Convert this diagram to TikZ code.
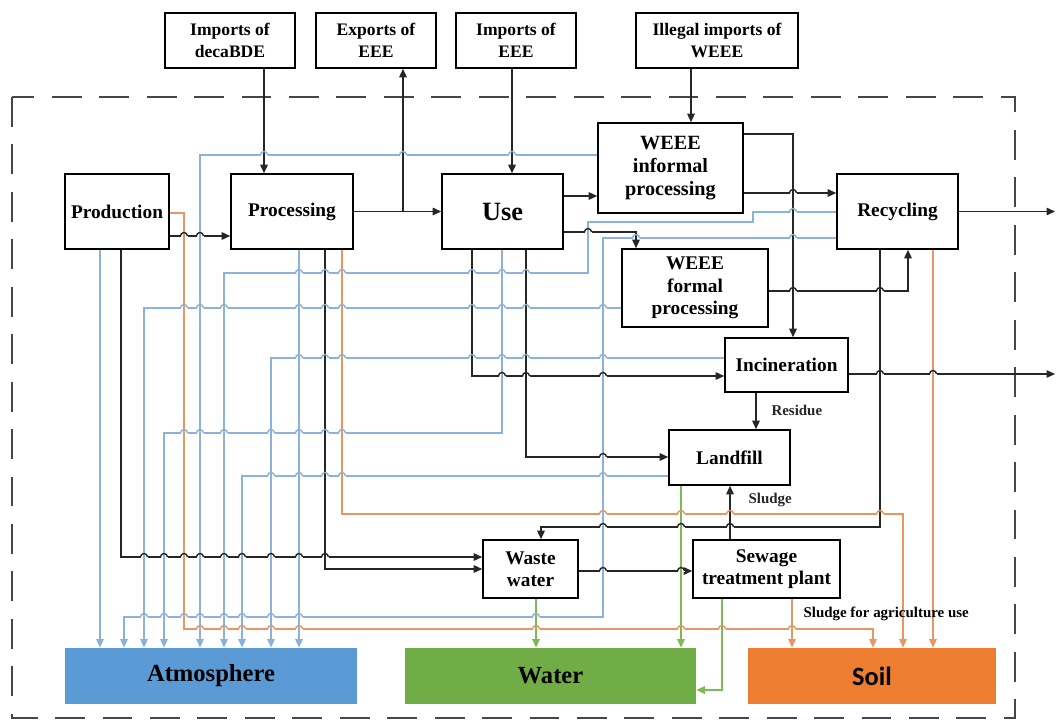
\documentclass[tikz,border=0pt]{standalone}
\usepackage{fontspec}
\setmainfont{Liberation Serif}
\newfontfamily\soilfont{Carlito}
\usetikzlibrary{arrows.meta,calc}

\definecolor{airblue}{RGB}{91,155,213}
\definecolor{airline}{RGB}{140,178,218}
\definecolor{watgreen}{RGB}{112,173,71}
\definecolor{watline}{RGB}{125,185,85}
\definecolor{soilorange}{RGB}{237,125,49}
\definecolor{soilline}{RGB}{232,150,100}
\definecolor{framegray}{RGB}{70,70,70}
\colorlet{flowblack}{black!85}

% line hop: x, y, colour of the crossing line, colour of the line below
\newcommand{\linehop}[4]{%
  \draw[white, line width=1.5pt] (#1-3.5,#2) -- (#1+3.5,#2);
  \draw[#4, line width=0.8pt] (#1,#2-3) -- (#1,#2+3);
  \draw[#3, line width=0.8pt] (#1-3.5,#2) arc[start angle=180, end angle=360, radius=3.5];
}

\begin{document}
\begin{tikzpicture}[
    x=0.02cm, y=-0.02cm,
    box/.style={rectangle, draw=black, line width=0.9pt, fill=white, align=center, font=\fontsize{11}{12.7}\selectfont\bfseries},
    topbox/.style={box, minimum height=1.1cm, font=\fontsize{10}{12.5}\selectfont\bfseries},
    sink/.style={rectangle, minimum height=1.12cm, font=\fontsize{14}{16}\selectfont\bfseries},
    flow/.style={-{Triangle[length=1.7mm,width=1.5mm]}, line width=0.8pt, flowblack},
    air/.style={flow, airline},
    wat/.style={flow, watline},
    dirt/.style={flow, soilline},
    note/.style={font=\fontsize{8.5}{10}\selectfont\bfseries}
]
\useasboundingbox (0,0) rectangle (1057,720);

% System boundary
\draw[framegray, line width=1.2pt, dash pattern=on 17pt off 10pt] (12,97) rectangle (1015,718);

% Outside flows
\node[topbox, minimum width=2.6cm] (imp1) at (230,40.5) {Imports of\\decaBDE};
\node[topbox, minimum width=2.4cm] (exp) at (376,40.5) {Exports of\\EEE};
\node[topbox, minimum width=2.4cm] (imp2) at (516,40.5) {Imports of\\EEE};
\node[topbox, minimum width=3.24cm] (illegal) at (717,40.5) {Illegal imports of\\WEEE};

% Life cycle stages
\node[box, minimum width=1.96cm, minimum height=1.5cm] (prod) at (117,211.5) {Production};
\node[box, minimum width=2.44cm, minimum height=1.5cm] (proc) at (292,211.5) {Processing};
\node[box, minimum width=2.42cm, minimum height=1.5cm, font=\fontsize{15}{17}\selectfont\bfseries] (use) at (502.5,211.5) {Use};
\node[box, minimum width=2.9cm, minimum height=1.8cm, font=\fontsize{11.5}{13}\selectfont\bfseries] (informal) at (670.5,168) {WEEE\\informal\\processing};
\node[box, minimum width=2.42cm, minimum height=1.5cm] (recyc) at (897.5,211.5) {Recycling};
\node[box, minimum width=2.92cm, minimum height=1.56cm] (formal) at (695,288) {WEEE\\formal\\processing};
\node[box, minimum width=2.46cm, minimum height=1.08cm] (incin) at (786.5,365) {Incineration};
\node[box, minimum width=2.42cm, minimum height=1.1cm] (landfill) at (729.5,457.5) {Landfill};
\node[box, minimum width=1.9cm, minimum height=1.16cm] (waste) at (530.5,569) {Waste\\water};
\node[box, minimum width=2.94cm, minimum height=1.16cm] (sewage) at (766.5,569) {Sewage\\treatment plant};

% Environment
\node[sink, fill=airblue, minimum width=5.84cm] (atm) at (211,676) {Atmosphere};
\node[sink, fill=watgreen, minimum width=5.82cm] (water) at (550.5,676) {Water};
\node[sink, fill=soilorange, minimum width=4.96cm, font=\soilfont\fontsize{15}{17}\selectfont\bfseries] (soil) at (872,676) {Soil};

\coordinate (out1) at (1055,211.5);
\coordinate (out2) at (1055,374);

% Material flows
\draw[flow] (imp1.south -| 264,0) -- (proc.north -| 264,0);
\draw[flow] (proc.east) -- (use.west);
\draw[flow] (proc.east -| 403,0) -- (exp.south -| 403,0);
\draw[flow] (imp2.south -| 512,0) -- (use.north -| 512,0);
\draw[flow] (illegal.south -| 691,0) -- (informal.north -| 691,0);
\draw[flow] (prod.east |- 0,236) -- (proc.west |- 0,236);
\draw[flow] (use.east |- 0,196) -- (informal.west |- 0,196);
\draw[flow] (use.east |- 0,232) -| (formal.north -| 636,0);
\draw[flow] (informal.east |- 0,193) -- (recyc.west |- 0,193);
\draw[flow] (informal.east |- 0,134) -| (incin.north -| 793,0);
\draw[flow] (formal.east |- 0,291) -| (recyc.south -| 908,0);
\draw[flow] (recyc.east) -- (out1);
\draw[flow] (recyc.south -| 880,0) -- (880,527) -| (waste.north -| 541,0);
\draw[flow] (incin.east |- 0,374) -- (out2);
\draw[flow] (incin.south -| 756,0) -- node[note, right=1.8mm, pos=0.47] {Residue} (landfill.north -| 756,0);
\draw[flow] (sewage.north -| 730,0) -- node[note, right=2.4mm, pos=0.73] {Sludge} (landfill.south -| 730,0);
\draw[flow] (waste.east |- 0,571) -- (sewage.west |- 0,571);
\draw[flow] (use.south -| 472,0) |- (incin.west |- 0,376);
\draw[flow] (use.south -| 526,0) |- (landfill.west |- 0,457);
\draw[flow] (prod.south -| 121,0) |- (waste.west |- 0,557);
\draw[flow] (proc.south -| 325,0) |- (waste.west |- 0,569);

% Emissions to air
\draw[air] (prod.south -| 100,0) -- (atm.north -| 100,0);
\draw[air] (recyc.west |- 0,238) -| (603,617) -| (atm.north -| 124,0);
\draw[air] (formal.west |- 0,308) -| (atm.north -| 144,0);
\draw[air] (use.south -| 502,0) |- (164,433) -- (atm.north -| 164,0);
\draw[air] (informal.west |- 0,155) -| (atm.north -| 200,0);
\draw[air] (recyc.west |- 0,212) -- (753,212) -- (753,222) -- (588,222) -- (588,273) -| (atm.north -| 224,0);
\draw[air] (landfill.west |- 0,476) -| (atm.north -| 242,0);
\draw[air] (incin.west |- 0,358) -| (atm.north -| 271,0);
\draw[air] (proc.south -| 299,0) -- (atm.north -| 299,0);

% Emissions to water
\draw[wat] (waste.south -| 536,0) -- (water.north -| 536,0);
\draw[wat] (landfill.south -| 681,0) -- (water.north -| 681,0);
\draw[wat] (sewage.south -| 722,0) |- (water.east |- 0,690);

% Emissions to soil
\draw[dirt] (prod.east |- 0,213) -| (184,629) -| (soil.north -| 873,0);
\draw[dirt] (proc.south -| 342,0) -- (342,514) -| (soil.north -| 903,0);
\draw[dirt] (recyc.south -| 933,0) -- (soil.north -| 933,0);
\draw[dirt] (sewage.south -| 792,0) -- node[note, right=1mm, pos=0.3, black] {Sludge for agriculture use} (soil.north -| 792,0);

% Hops where lines cross
\foreach \x/\c in {184/soilline, 200/airline} {\linehop{\x}{236}{flowblack}{\c}}
\linehop{588}{232}{flowblack}{airline}
\linehop{793}{193}{flowblack}{flowblack}
\foreach \x in {793, 880} {\linehop{\x}{291}{flowblack}{flowblack}}
\foreach \x/\c in {603/airline, 681/watline, 730/flowblack} {\linehop{\x}{527}{flowblack}{\c}}
\foreach \x/\c in {880/flowblack, 933/soilline} {\linehop{\x}{374}{flowblack}{\c}}
\foreach \x/\c in {603/airline, 681/watline} {\linehop{\x}{571}{flowblack}{\c}}
\foreach \x/\c in {502/airline, 526/flowblack, 603/airline} {\linehop{\x}{376}{flowblack}{\c}}
\linehop{603}{457}{flowblack}{airline}
\foreach \x/\c in {144/airline, 164/airline, 184/soilline, 200/airline, 224/airline, 242/airline, 271/airline, 299/airline, 325/flowblack} {\linehop{\x}{557}{flowblack}{\c}}
\foreach \x in {636, 793} {\linehop{\x}{238}{airline}{flowblack}}
\foreach \x/\c in {144/airline, 164/airline, 184/soilline, 200/airline, 224/airline, 242/airline, 271/airline, 299/airline, 536/watline} {\linehop{\x}{617}{airline}{\c}}
\foreach \x/\c in {184/soilline, 200/airline, 224/airline, 299/airline, 325/flowblack, 342/soilline, 472/flowblack, 502/airline, 526/flowblack, 603/airline} {\linehop{\x}{308}{airline}{\c}}
\foreach \x/\c in {184/soilline, 200/airline, 224/airline, 271/airline, 299/airline, 325/flowblack, 342/soilline} {\linehop{\x}{433}{airline}{\c}}
\foreach \x in {264, 403, 512} {\linehop{\x}{155}{airline}{flowblack}}
\linehop{793}{212}{airline}{flowblack}
\foreach \x/\c in {299/airline, 325/flowblack, 342/soilline, 472/flowblack, 502/airline, 526/flowblack} {\linehop{\x}{273}{airline}{\c}}
\foreach \x/\c in {271/airline, 299/airline, 325/flowblack, 342/soilline, 603/airline} {\linehop{\x}{476}{airline}{\c}}
\foreach \x/\c in {299/airline, 325/flowblack, 342/soilline, 472/flowblack, 502/airline, 526/flowblack, 603/airline} {\linehop{\x}{358}{airline}{\c}}
\foreach \x/\c in {200/airline, 224/airline, 242/airline, 271/airline, 299/airline, 536/watline, 681/watline, 722/watline, 792/soilline} {\linehop{\x}{629}{soilline}{\c}}
\foreach \x/\c in {603/airline, 681/watline, 730/flowblack, 880/flowblack} {\linehop{\x}{514}{soilline}{\c}}

\end{tikzpicture}
\end{document}
